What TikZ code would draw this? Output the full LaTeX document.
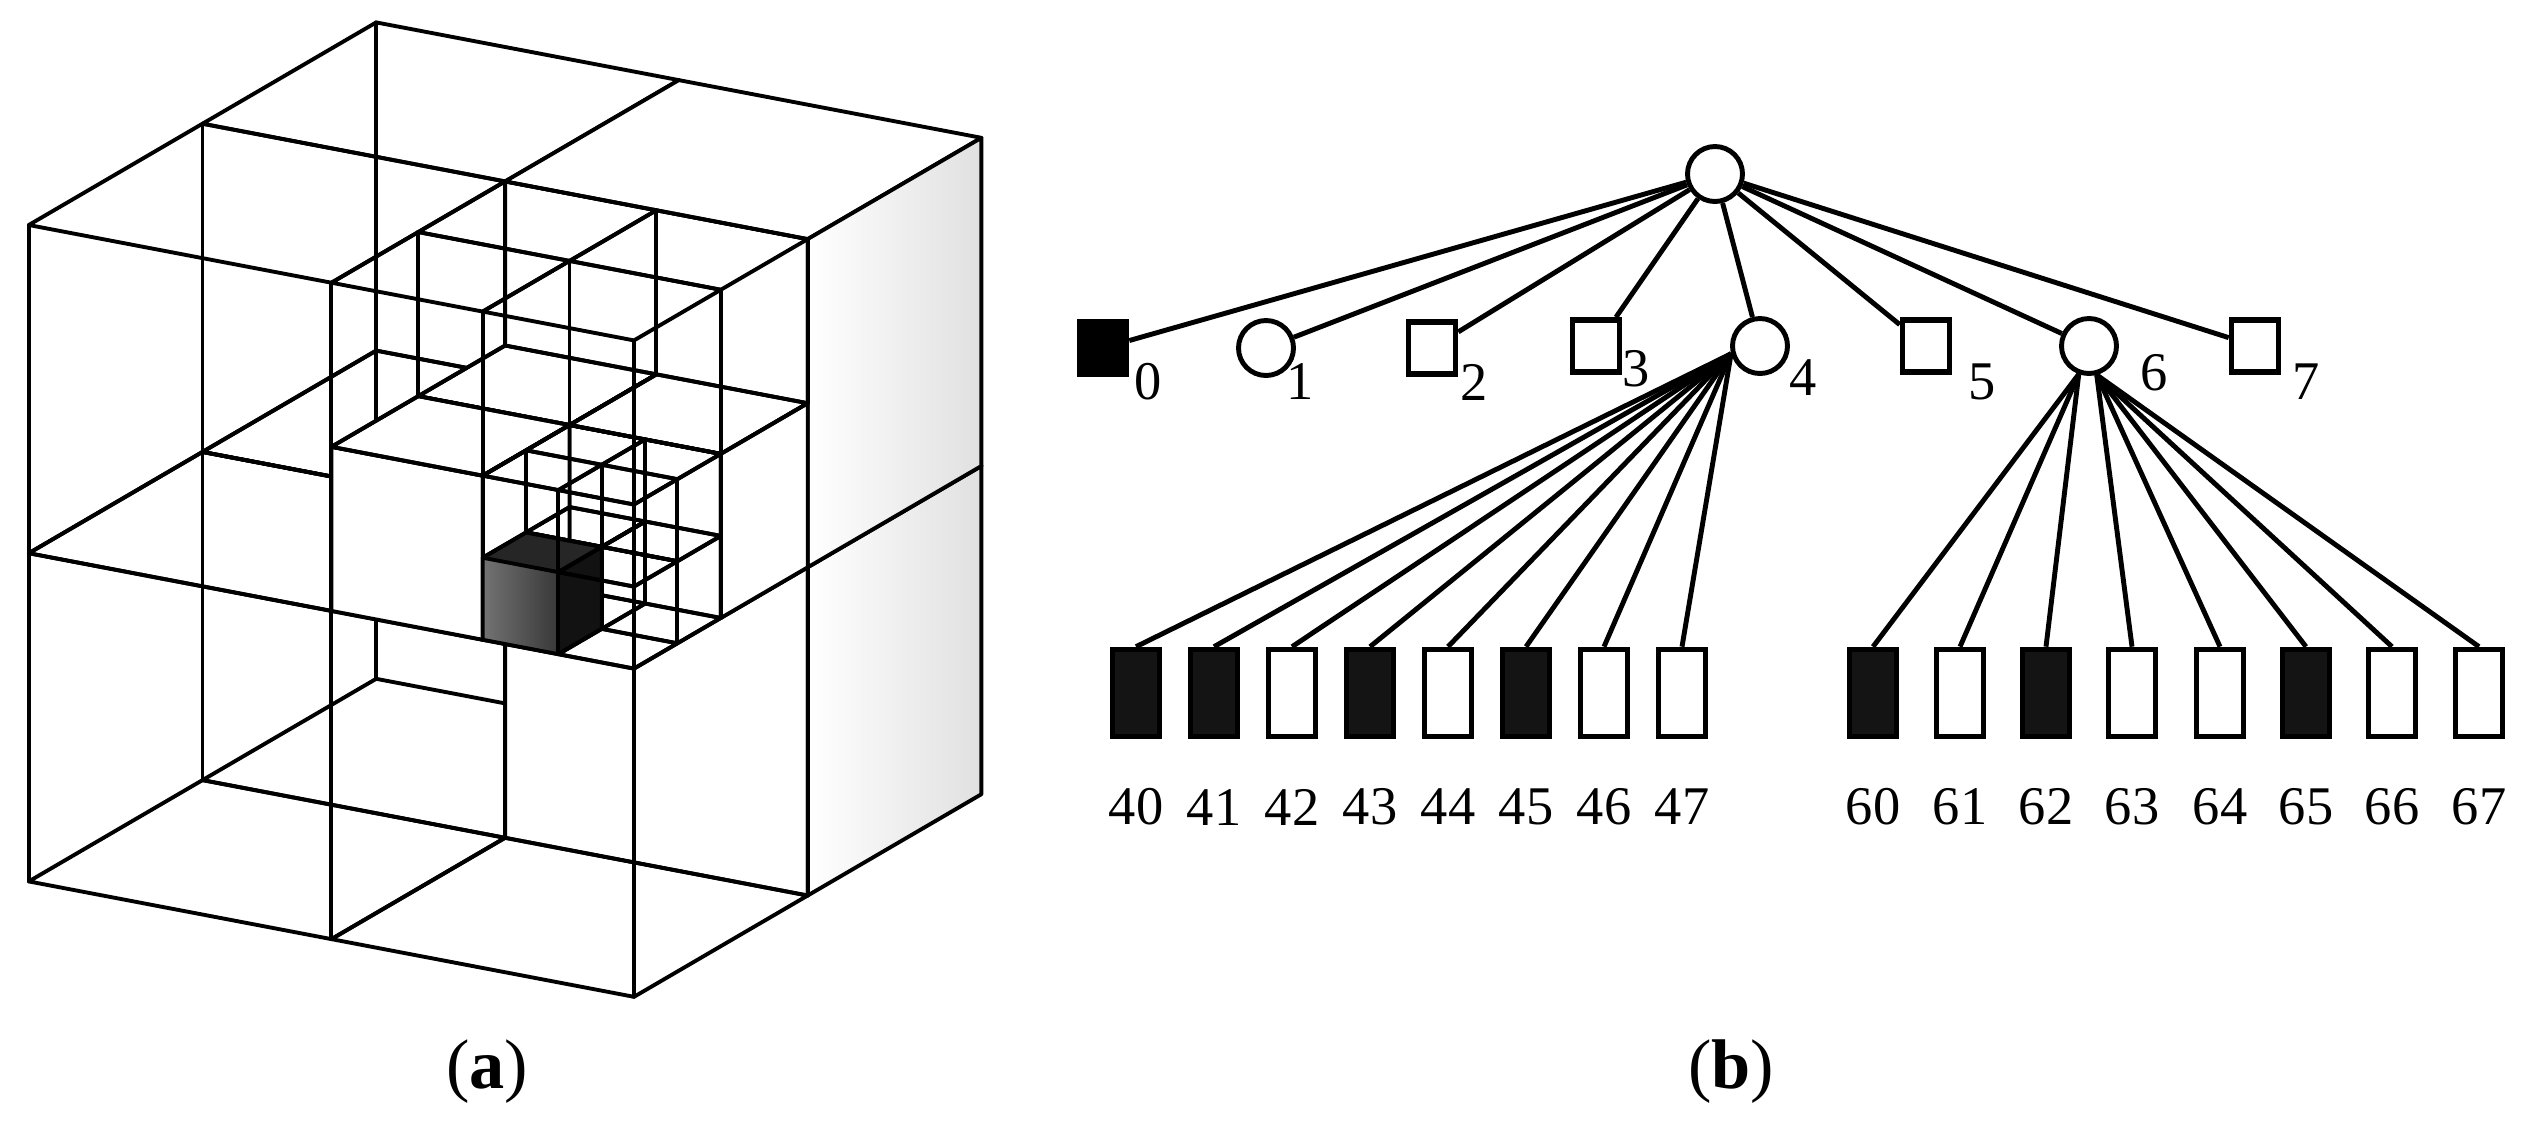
\documentclass[tikz,border=0pt]{standalone}
\usepackage{fontspec}
\setmainfont{Liberation Serif}
\begin{document}
\begin{tikzpicture}[
  cl/.style={line width=1.1pt, line join=round, line cap=round},
  rsh/.style={left color=white, middle color=white, right color=black!12},
  edge/.style={line width=1.4pt},
  sq/.style={draw, line width=1.6pt, minimum width=0.47cm, minimum height=0.52cm, inner sep=0pt},
  bsq/.style={sq, fill=black},
  cir/.style={draw, line width=1.4pt, circle, minimum size=0.55cm, inner sep=0pt},
  rect/.style={draw, line width=1.6pt, minimum width=0.47cm, minimum height=0.87cm, inner sep=0pt},
  brect/.style={rect, fill=black!92},
  lab/.style={font=\fontsize{15.5}{18}\selectfont, inner sep=0pt},
  captxt/.style={font=\fontsize{20}{24}\selectfont, inner sep=0pt}
]
\useasboundingbox (0,0) rectangle (25.28,-11.42);

\newcommand\tcell[4]{%
  \draw[cl] (#1,#2,#3) -- ++(#4,0,0) -- ++(0,#4,0) -- ++(-#4,0,0) -- cycle;
  \draw[cl] (#1,#2,#3+#4) -- ++(#4,0,0) -- ++(0,#4,0) -- ++(-#4,0,0) -- cycle;
  \draw[cl] (#1,#2,#3) -- ++(0,0,#4) (#1+#4,#2,#3) -- ++(0,0,#4)
            (#1,#2+#4,#3) -- ++(0,0,#4) (#1+#4,#2+#4,#3) -- ++(0,0,#4);}
\newcommand\ocell[5]{%
  \filldraw[cl, fill=white] (#1,#2,#3) -- ++(#4,0,0) -- ++(0,0,#4) -- ++(-#4,0,0) -- cycle;
  \filldraw[cl, fill=white] (#1,#2,#3+#4) -- ++(#4,0,0) -- ++(0,#4,0) -- ++(-#4,0,0) -- cycle;
  \fill[#5] (#1+#4,#2,#3) -- ++(0,#4,0) -- ++(0,0,#4) -- ++(0,-#4,0) -- cycle;
  \draw[cl] (#1+#4,#2,#3) -- ++(0,#4,0) -- ++(0,0,#4) -- ++(0,-#4,0) -- cycle;}

% ---------- (a) octree cube ----------
\begin{scope}[shift={(0.288,-8.814)}, x={(3.026cm,-0.577cm)}, y={(1.737cm,1.013cm)}, z={(0cm,3.282cm)}]
  \tcell{0}{1}{0}{1}
  \ocell{1}{1}{0}{1}{rsh}
  \tcell{0}{1}{1}{1}
  \tcell{0}{0}{0}{1}
  \tcell{1}{0}{0}{1}
  \tcell{0}{0}{1}{1}
  \ocell{1}{1}{1}{1}{rsh}
  % level 1
  \ocell{1}{0.5}{1}{0.5}{white}
  \ocell{1.5}{0.5}{1}{0.5}{white}
  \tcell{1}{0.5}{1.5}{0.5}
  \ocell{1}{0}{1}{0.5}{white}
  % level 2
  \tcell{1.5}{0.25}{1}{0.25}
  \tcell{1.75}{0.25}{1}{0.25}
  \tcell{1.5}{0.25}{1.25}{0.25}
  \fill[left color=black!55, right color=black!78] (1.5,0,1) -- (1.75,0,1) -- (1.75,0,1.25) -- (1.5,0,1.25) -- cycle;
  \fill[black!85] (1.5,0,1.25) -- (1.75,0,1.25) -- (1.75,0.25,1.25) -- (1.5,0.25,1.25) -- cycle;
  \fill[black!93] (1.75,0,1) -- (1.75,0.25,1) -- (1.75,0.25,1.25) -- (1.75,0,1.25) -- cycle;
  \draw[cl] (1.5,0,1) -- (1.75,0,1) -- (1.75,0.25,1) -- (1.75,0.25,1.25) -- (1.5,0.25,1.25) -- (1.5,0,1.25) -- cycle;
  \tcell{1.75}{0}{1}{0.25}
  \tcell{1.5}{0}{1.25}{0.25}
  \tcell{1.75}{0.25}{1.25}{0.25}
  \tcell{1.75}{0}{1.25}{0.25}
  % level 1 remaining
  \tcell{1}{0}{1.5}{0.5}
  \tcell{1.5}{0.5}{1.5}{0.5}
  \tcell{1.5}{0}{1.5}{0.5}
\end{scope}

% ---------- (b) tree ----------
\node[cir] (root) at (17.15,-1.74) {};
\node[bsq] (n0) at (11.03,-3.48) {};
\node[cir] (n1) at (12.66,-3.48) {};
\node[sq]  (n2) at (14.32,-3.48) {};
\node[sq]  (n3) at (15.96,-3.46) {};
\node[cir] (n4) at (17.60,-3.46) {};
\node[sq]  (n5) at (19.26,-3.46) {};
\node[cir] (n6) at (20.89,-3.46) {};
\node[sq]  (n7) at (22.55,-3.46) {};
\foreach \i in {0,...,7} \draw[edge] (root) -- (n\i);

\node[lab] (l0) at (11.48,-3.82) {0};
\node[lab] (l1) at (13.00,-3.82) {1};
\node[lab] (l2) at (14.74,-3.82) {2};
\node[lab] (l3) at (16.36,-3.69) {3};
\node[lab] (l4) at (18.03,-3.78) {4};
\node[lab] (l5) at (19.82,-3.82) {5};
\node[lab] (l6) at (21.54,-3.73) {6};
\node[lab] (l7) at (23.06,-3.82) {7};

\foreach \n/\x/\s in {40/11.36/brect,41/12.14/brect,42/12.92/rect,43/13.70/brect,44/14.48/rect,45/15.26/brect,46/16.04/rect,47/16.82/rect,
                      60/18.73/brect,61/19.60/rect,62/20.46/brect,63/21.32/rect,64/22.20/rect,65/23.06/brect,66/23.92/rect,67/24.79/rect}{
  \node[\s] (r\n) at (\x,-6.93) {};
  \node[lab] (t\n) at (\x,-8.07) {\n};
}
\foreach \n in {40,...,47} \draw[edge] (n4.195) -- (r\n.north);
\foreach \n in {60,61,62} \draw[edge] (n6.250) -- (r\n.north);
\foreach \n in {63,...,67} \draw[edge] (n6.285) -- (r\n.north);

\node[captxt] (ca) at (4.87,-10.72) {(\textbf{a})};
\node[captxt] (cb) at (17.31,-10.72) {(\textbf{b})};
\end{tikzpicture}
\end{document}
